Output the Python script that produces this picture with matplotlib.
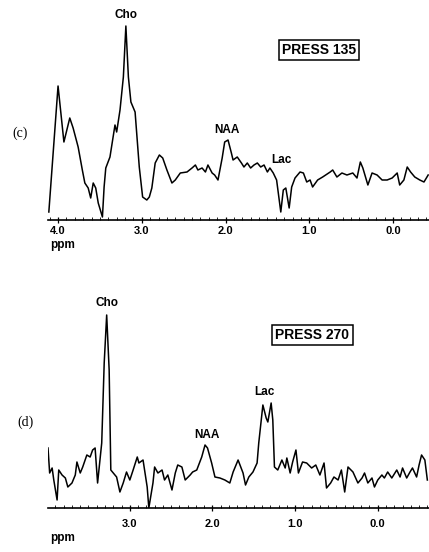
import numpy as np
import matplotlib.pyplot as plt
from matplotlib.ticker import MultipleLocator

# spectrum (c): PRESS TE=135
ppm_c = [4.11, 4.00, 3.93, 3.86, 3.82, 3.76, 3.71, 3.68, 3.64, 3.61, 3.58, 3.55, 3.52,
         3.47, 3.45, 3.43, 3.38, 3.32, 3.30, 3.26, 3.22, 3.19, 3.16, 3.13, 3.08, 3.03,
         2.99, 2.94, 2.91, 2.88, 2.84, 2.79, 2.75, 2.70, 2.64, 2.60, 2.54, 2.46, 2.40,
         2.36, 2.33, 2.28, 2.24, 2.21, 2.16, 2.13, 2.09, 2.04, 2.01, 1.97, 1.93, 1.91,
         1.86, 1.81, 1.78, 1.74, 1.70, 1.66, 1.62, 1.58, 1.54, 1.50, 1.47, 1.43, 1.39,
         1.34, 1.31, 1.28, 1.24, 1.21, 1.17, 1.11, 1.07, 1.03, 0.99, 0.96, 0.90, 0.84,
         0.75, 0.72, 0.67, 0.61, 0.55, 0.48, 0.43, 0.39, 0.36, 0.30, 0.25, 0.19, 0.13,
         0.07, 0.01, -0.05, -0.08, -0.13, -0.17, -0.21, -0.26, -0.32, -0.37, -0.42]
sig_c = [8, 134, 78, 102, 92, 73, 50, 37, 32, 22, 37, 32, 17,
         3, 33, 52, 63, 95, 88, 110, 143, 194, 143, 118, 108, 53,
         23, 20, 23, 32, 57, 65, 62, 50, 37, 40, 47, 48, 52,
         55, 50, 52, 48, 55, 47, 45, 40, 62, 78, 80, 67, 60,
         63, 57, 53, 57, 52, 55, 57, 53, 55, 48, 52, 47, 40,
         8, 30, 32, 12, 33, 42, 48, 47, 38, 40, 33, 40, 43,
         48, 50, 43, 47, 45, 47, 42, 58, 52, 35, 47, 45, 40,
         40, 42, 47, 35, 40, 53, 48, 43, 40, 38, 45]

# spectrum (d): PRESS TE=270
ppm_d = [3.99, 3.97, 3.94, 3.92, 3.88, 3.86, 3.82, 3.78, 3.75, 3.70, 3.66, 3.64, 3.60,
         3.57, 3.52, 3.48, 3.45, 3.42, 3.39, 3.34, 3.31, 3.28, 3.25, 3.23, 3.20, 3.16,
         3.12, 3.08, 3.04, 3.00, 2.96, 2.91, 2.89, 2.84, 2.79, 2.77, 2.72, 2.70, 2.66,
         2.61, 2.58, 2.54, 2.49, 2.45, 2.42, 2.37, 2.33, 2.27, 2.24, 2.19, 2.13, 2.09,
         2.06, 2.01, 1.97, 1.91, 1.85, 1.79, 1.75, 1.69, 1.63, 1.60, 1.56, 1.51, 1.46,
         1.44, 1.39, 1.35, 1.33, 1.29, 1.27, 1.25, 1.21, 1.16, 1.12, 1.10, 1.06, 1.03,
         0.99, 0.96, 0.91, 0.86, 0.80, 0.75, 0.70, 0.65, 0.62, 0.57, 0.53, 0.48, 0.44,
         0.40, 0.36, 0.30, 0.24, 0.19, 0.16, 0.12, 0.07, 0.04, 0.00, -0.05, -0.08,
         -0.12, -0.17, -0.23, -0.27, -0.30, -0.35, -0.39, -0.42, -0.47, -0.50, -0.53,
         -0.57, -0.60]
sig_d = [60, 35, 40, 28, 8, 38, 33, 30, 21, 25, 33, 46, 35,
         41, 53, 51, 58, 60, 25, 65, 145, 193, 138, 38, 35, 31,
         16, 25, 36, 28, 38, 51, 45, 48, 21, 0, 25, 41, 35,
         38, 28, 33, 18, 35, 43, 41, 28, 33, 36, 38, 51, 63,
         60, 45, 31, 30, 28, 25, 36, 48, 35, 23, 31, 36, 45,
         65, 103, 90, 86, 105, 88, 41, 38, 48, 40, 50, 35, 46,
         58, 35, 46, 45, 40, 43, 33, 45, 20, 25, 31, 28, 38,
         16, 41, 36, 25, 30, 35, 25, 30, 21, 28, 33, 30,
         36, 30, 38, 31, 40, 30, 36, 40, 31, 43, 53,
         48, 28]

plt.rcParams['font.family'] = ['Liberation Sans', 'DejaVu Sans']

fig = plt.figure(figsize=(4.29, 5.52), dpi=100)

def panel(rect, ppm, sig, xlim, peaks, box_text, box_pos, tag, tag_pos, pad, ppm_y):
    ax = fig.add_axes(rect)
    ax.plot(ppm, sig, color='black', lw=1.1)
    ax.set_xlim(*xlim)
    ax.set_ylim(0, 200)
    for s in ['top', 'left', 'right']:
        ax.spines[s].set_visible(False)
    ax.spines['bottom'].set_linewidth(1.2)
    ax.set_yticks([])
    ax.xaxis.set_major_locator(MultipleLocator(1.0))
    ax.xaxis.set_minor_locator(MultipleLocator(0.1))
    ax.xaxis.set_major_formatter(plt.FuncFormatter(lambda v, p: f"{v:.1f}"))
    ax.tick_params(axis='x', which='major', direction='inout', length=4, width=0.9,
                   labelsize=8, pad=pad)
    ax.tick_params(axis='x', which='minor', direction='in', length=2.5, width=0.6)
    for lab in ax.get_xticklabels():
        lab.set_fontweight('bold')
    for name, x, y in peaks:
        ax.text(x, y, name, ha='center', va='center', fontsize=8.5,
                fontweight='bold', clip_on=False)
    ax.text(box_pos[0], box_pos[1], box_text, ha='center', va='center',
            fontsize=10, fontweight='bold',
            bbox=dict(boxstyle='square,pad=0.22', fc='white', ec='black', lw=1.1))
    ax.text(0.005, ppm_y, 'ppm', transform=ax.transAxes, ha='left', va='center',
            fontsize=8.5, fontweight='bold')
    fig.text(tag_pos[0], tag_pos[1], tag, ha='center', va='center',
             fontsize=10, family='Liberation Serif')
    return ax

panel([48/429, 332/552, 381/429, 200/552], ppm_c, sig_c, (4.12, -0.43),
      [('Cho', 3.19, 205), ('NAA', 1.98, 90), ('Lac', 1.33, 60)],
      'PRESS 135', (0.88, 170), '(c)', (20/429, 1 - 133/552), 2, -0.125)

panel([48/429, 44/552, 381/429, 200/552], ppm_d, sig_d, (3.99, -0.62),
      [('Cho', 3.28, 205), ('NAA', 2.07, 73), ('Lac', 1.37, 116)],
      'PRESS 270', (0.79, 173), '(d)', (25/429, 1 - 422/552), 6, -0.15)

fig.savefig('out.png', dpi=100)
